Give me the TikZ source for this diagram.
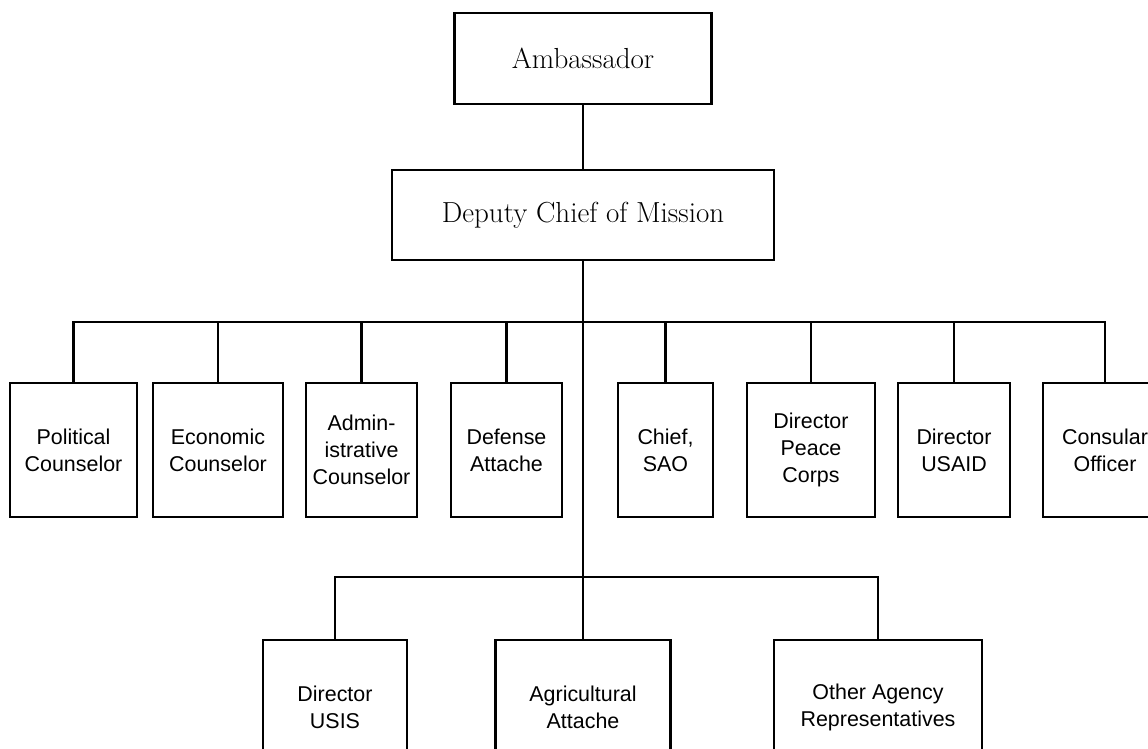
\documentclass[tikz,border=0pt]{standalone}
\usepackage{fontspec}
\newfontfamily\unitfont{Liberation Sans}

\tikzset{
headbox/.style={draw=black,line width=1.3pt,rectangle,inner sep=0pt,font=\fontsize{16.5}{20}\selectfont},
unitbox/.style={draw=black,line width=1.3pt,rectangle,inner sep=0pt,minimum height=2.68cm,align=center,font=\unitfont\fontsize{12.2}{15.4}\selectfont},
link/.style={draw=black,line width=1.3pt}
}

\begin{document}
\begin{tikzpicture}[x=0.02cm,y=-0.02cm]
\useasboundingbox (0,0) rectangle (1148,748);

\node[headbox,minimum width=5.14cm,minimum height=1.82cm] (amb) at (583,58.5) {Ambassador};
\node[headbox,minimum width=7.64cm,minimum height=1.8cm] (dcm) at (583,215) {Deputy Chief of Mission};

\node[unitbox,minimum width=2.54cm] (pol) at (73.5,450) {Political\\Counselor};
\node[unitbox,minimum width=2.6cm] (eco) at (218,450) {Economic\\Counselor};
\node[unitbox,minimum width=2.22cm] (adm) at (361.5,450) {Admin-\\istrative\\Counselor};
\node[unitbox,minimum width=2.22cm] (def) at (506.5,450) {Defense\\Attache};
\node[unitbox,minimum width=1.9cm] (sao) at (665.5,450) {Chief,\\SAO};
\node[unitbox,minimum width=2.56cm] (pce) at (811,450) {Director\\Peace\\Corps};
\node[unitbox,minimum width=2.24cm] (aid) at (954,450) {Director\\USAID};
\node[unitbox,minimum width=2.48cm] (con) at (1105,450) {Consular\\Officer};

\node[unitbox,minimum width=2.88cm] (usis) at (335,707) {Director\\USIS};
\node[unitbox,minimum width=3.5cm] (agr) at (583,707) {Agricultural\\Attache};
\node[unitbox,minimum width=4.16cm] (oth) at (878,707) {Other Agency\\Representatives};

\coordinate (bus) at (583,322);
\coordinate (lowbus) at (583,577);

\draw[link] (amb.south) -- (dcm.north);
\draw[link] (dcm.south) -- (agr.north);

\draw[link] (pol.north) -- (pol.north |- bus) -- (con.north |- bus) -- (con.north);
\draw[link] (eco.north) -- (eco.north |- bus);
\draw[link] (adm.north) -- (adm.north |- bus);
\draw[link] (def.north) -- (def.north |- bus);
\draw[link] (sao.north) -- (sao.north |- bus);
\draw[link] (pce.north) -- (pce.north |- bus);
\draw[link] (aid.north) -- (aid.north |- bus);

\draw[link] (usis.north) -- (usis.north |- lowbus) -- (oth.north |- lowbus) -- (oth.north);

\end{tikzpicture}
\end{document}
